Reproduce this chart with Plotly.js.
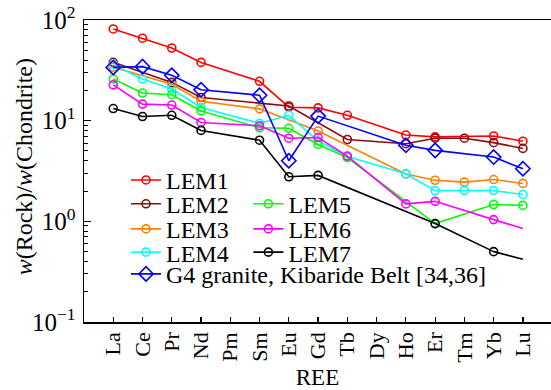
<!DOCTYPE html>
<html>
<head>
<meta charset="utf-8">
<script src="https://cdn.plot.ly/plotly-3.0.1.min.js"></script>
<style>
  html, body { margin: 0; padding: 0; background: #fff; }
  #chart { width: 551px; height: 390px; }
</style>
</head>
<body>
<div id="chart"></div>
<script>
// Chondrite-normalised REE patterns
const elements = ['La', 'Ce', 'Pr', 'Nd', 'Pm', 'Sm', 'Eu', 'Gd', 'Tb', 'Dy', 'Ho', 'Er', 'Tm', 'Yb', 'Lu'];

const lem1 = [81.5, 65.9, 52.7, 37.9, null, 24.6, 13.6, 13.4, 11.3, null, 7.2, 6.9, null, 7.05, 6.25];
const lem2 = [38.0, null, 24.0, 17.0, null, null, 14.0, null, 6.5, null, 5.9, 6.7, 6.7, 6.05, 5.3];
const lem3 = [34.0, null, 23.0, 15.6, null, 13.1, null, 7.9, null, null, 2.95, 2.56, 2.45, 2.6, 2.38];
const lem4 = [36.0, 25.9, 20.6, 13.5, null, 9.4, 11.3, 6.3, 4.4, null, 2.97, 2.02, 2.02, 2.02, 1.85];
const lem5 = [25.9, 18.8, 18.1, 12.5, null, 8.5, 8.4, 5.8, 4.3, null, null, 0.95, null, 1.47, 1.44];
const lem6 = [22.7, 14.6, 14.3, 9.6, null, 8.9, 6.7, 6.8, 4.45, null, 1.49, 1.58, null, 1.04, 0.85];
const lem7 = [13.2, 11.0, 11.3, 8.0, null, 6.4, 2.77, 2.86, null, null, null, 0.95, null, 0.50, 0.42];
const g4   = [33.8, 34.4, 28.2, 20.3, null, 17.9, 4.0, 11.1, null, null, 5.7, 5.07, null, 4.35, 3.33];

const seriesNames = ['LEM1', 'LEM2', 'LEM3', 'LEM4', 'LEM5', 'LEM6', 'LEM7', 'G4 granite, Kibaride Belt [34,36]'];
const yTickVals = [0.1, 1, 10, 100];
const yTickText = ['10<sup>\u22121</sup>', '10<sup>0</sup>', '10<sup>1</sup>', '10<sup>2</sup>'];
const yTitle = '<i>w</i>(Rock)/<i>w</i>(Chondrite)';
const xTitle = 'REE';

const FONT = '"Liberation Serif", "Times New Roman", Times, serif';

// style per series: colour, marker symbol, marker size, last point drawn without marker
const styles = [
  {c: '#ff0000', s: 'circle-open', z: 8, bareLast: false, data: lem1},
  {c: '#8b0a0a', s: 'circle-open', z: 8, bareLast: false, data: lem2},
  {c: '#ff8000', s: 'circle-open', z: 8, bareLast: false, data: lem3},
  {c: '#00ffff', s: 'circle-open', z: 8, bareLast: false, data: lem4},
  {c: '#00ff00', s: 'circle-open', z: 8, bareLast: false, data: lem5},
  {c: '#ff00ff', s: 'circle-open', z: 8, bareLast: true,  data: lem6},
  {c: '#000000', s: 'circle-open', z: 8, bareLast: true,  data: lem7},
  {c: '#0000ff', s: 'diamond-open', z: 11, bareLast: false, data: g4}
];

const traces = [];
styles.forEach((st, i) => {
  const ys = st.bareLast ? st.data.slice(0, -1).concat([null]) : st.data;
  traces.push({
    type: 'scatter', mode: 'lines+markers',
    x: elements, y: ys, name: seriesNames[i],
    connectgaps: true,
    line: {color: st.c, width: 1.6},
    marker: {symbol: st.s, size: st.z, color: st.c, line: {color: st.c, width: 1.6}},
    legend: i === 0 ? 'legend' : 'legend' + (i + 1),
    cliponaxis: false
  });
  if (st.bareLast) {
    const n = st.data.length;
    traces.push({
      type: 'scatter', mode: 'lines',
      x: elements.slice(n - 2), y: st.data.slice(n - 2),
      line: {color: st.c, width: 1.6},
      showlegend: false, hoverinfo: 'skip'
    });
  }
});

// one legend box per series, arranged in two columns
const legendPos = [
  [0.090, 0.469], [0.090, 0.390], [0.090, 0.307], [0.090, 0.230],
  [0.352, 0.390], [0.352, 0.307], [0.352, 0.230],
  [0.090, 0.158]
];

const layout = {
  width: 551, height: 390,
  margin: {l: 84, r: 0, t: 20, b: 68},
  paper_bgcolor: '#ffffff', plot_bgcolor: '#ffffff',
  font: {family: FONT, size: 22, color: '#000'},
  showlegend: true,
  xaxis: {
    type: 'category',
    range: [-1, 14.96],
    tickangle: -90,
    ticks: 'inside', ticklen: 5, tickwidth: 1.2, tickcolor: '#000',
    tickfont: {family: FONT, size: 22, color: '#000'},
    showline: true, linecolor: '#000', linewidth: 1.5, mirror: true,
    showgrid: false, zeroline: false,
    title: {text: xTitle, font: {family: FONT, size: 23, color: '#000'}, standoff: 8}
  },
  yaxis: {
    type: 'log',
    range: [-1, 2],
    tickmode: 'array', tickvals: yTickVals, ticktext: yTickText,
    ticks: 'inside', ticklen: 7, tickwidth: 1.2, tickcolor: '#000',
    tickfont: {family: FONT, size: 25, color: '#000'},
    ticklabelstandoff: 2,
    minor: {
      tickmode: 'array',
      tickvals: [0.2, 0.3, 0.4, 0.5, 0.6, 0.7, 0.8, 0.9, 2, 3, 4, 5, 6, 7, 8, 9, 20, 30, 40, 50, 60, 70, 80, 90],
      ticks: 'inside', ticklen: 4, tickwidth: 1, tickcolor: '#000', showgrid: false
    },
    showline: true, linecolor: '#000', linewidth: 1.5, mirror: false,
    showgrid: false, zeroline: false
  },
  annotations: [{
    text: yTitle, xref: 'paper', yref: 'paper',
    x: -0.128, y: 0.513, xanchor: 'center', yanchor: 'middle',
    textangle: -90, showarrow: false,
    font: {family: FONT, size: 24, color: '#000'}
  }]
};

legendPos.forEach((p, i) => {
  const key = i === 0 ? 'legend' : 'legend' + (i + 1);
  layout[key] = {
    x: p[0], y: p[1], xanchor: 'left', yanchor: 'middle',
    bgcolor: 'rgba(0,0,0,0)', borderwidth: 0,
    font: {family: FONT, size: 24, color: '#000'},
    itemclick: false
  };
});

Plotly.newPlot('chart', traces, layout, {staticPlot: true, displayModeBar: false});
</script>
</body>
</html>
